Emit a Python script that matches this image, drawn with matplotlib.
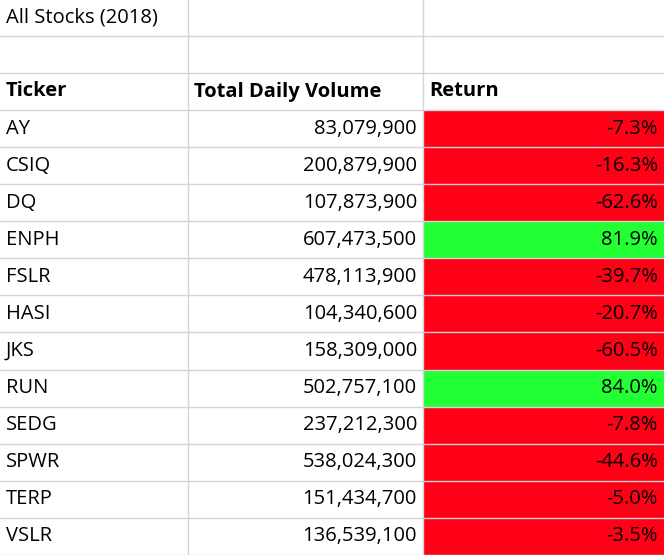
import matplotlib
matplotlib.use("Agg")
import matplotlib.pyplot as plt
from matplotlib.patches import Rectangle

titulo = "All Stocks (2018)"
cabecalho = ["Ticker", "Total Daily Volume", "Return"]
tickers = ["AY", "CSIQ", "DQ", "ENPH", "FSLR", "HASI", "JKS", "RUN", "SEDG", "SPWR", "TERP", "VSLR"]
volumes = [83079900, 200879900, 107873900, 607473500, 478113900, 104340600,
           158309000, 502757100, 237212300, 538024300, 151434700, 136539100]
retornos = [-7.3, -16.3, -62.6, 81.9, -39.7, -20.7, -60.5, 84.0, -7.8, -44.6, -5.0, -3.5]

W, H = 664, 555
colunas = [0, 188, 423, 664]
linhas = [0, 36, 73, 110] + [110 + 37.08 * (i + 1) for i in range(len(tickers))]
fonte = "Open Sans"
tam = 14.5

fig = plt.figure(figsize=(W / 100, H / 100), dpi=100)
ax = fig.add_axes([0, 0, 1, 1])
ax.set_xlim(0, W)
ax.set_ylim(H, 0)
ax.axis("off")

# fundo vermelho/verde da coluna Return
for i, r in enumerate(retornos):
    cor = "#22ff33" if r > 0 else "#ff0016"
    ax.add_patch(Rectangle((colunas[2], linhas[3 + i]), colunas[3] - colunas[2],
                           linhas[4 + i] - linhas[3 + i], facecolor=cor, edgecolor="none"))

# grade
for y in linhas[1:]:
    ax.plot([0, W], [y, y], color="#d4d4d4", lw=1)
for x in colunas[1:3]:
    ax.plot([x, x], [0, H], color="#d4d4d4", lw=1)

def meio(i):
    return (linhas[i] + linhas[i + 1]) / 2

ax.text(6, meio(0), titulo, fontsize=tam, family=fonte, va="center")
ax.text(6, meio(2), cabecalho[0], fontsize=tam, family=fonte, va="center", weight="bold")
ax.text(colunas[1] + 6, meio(2), cabecalho[1], fontsize=tam, family=fonte, va="center", weight="bold")
ax.text(colunas[2] + 6, meio(2), cabecalho[2], fontsize=tam, family=fonte, va="center", weight="bold")

for i, (t, v, r) in enumerate(zip(tickers, volumes, retornos)):
    y = meio(3 + i)
    ax.text(6, y, t, fontsize=tam, family=fonte, va="center")
    ax.text(colunas[2] - 6, y, f"{v:,}", fontsize=tam, family=fonte, va="center", ha="right")
    ax.text(colunas[3] - 6, y, f"{r:.1f}%", fontsize=tam, family=fonte, va="center", ha="right")

fig.savefig("out.png", dpi=100)
